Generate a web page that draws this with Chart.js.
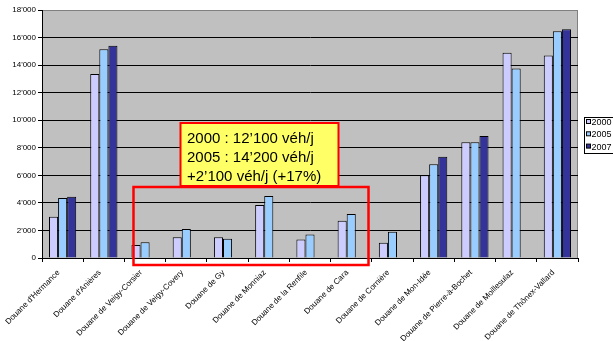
<!DOCTYPE html>
<html>
<head>
<meta charset="utf-8">
<script src="https://cdn.jsdelivr.net/npm/chart.js@4/dist/chart.umd.min.js"></script>
<style>
  html, body { margin: 0; padding: 0; background: #ffffff; }
  #wrap { width: 613px; height: 341px; position: relative; }
</style>
</head>
<body>
<div id="wrap"><canvas id="chart"></canvas></div>
<script>
// Daily traffic at the customs crossings (vehicles per day)
const categories = [
  "Douane d'Hermance", "Douane d'Anières", "Douane de Veigy-Corsier",
  "Douane de Veigy-Covery", "Douane de Gy", "Douane de Monniaz",
  "Douane de la Renfile", "Douane de Cara", "Douane de Cornière",
  "Douane de Mon-Idée", "Douane de Pierre-à-Bochet",
  "Douane de Moillesulaz", "Douane de Thônex-Vallard"
];
const seriesNames = ["2000", "2005", "2007"];
const values2000 = [3000, 13350, 950, 1500, 1500, 3850, 1350, 2700, 1100, 6000, 8400, 14900, 14700];
const values2005 = [4350, 15150, 1150, 2100, 1400, 4500, 1700, 3200, 1900, 6800, 8400, 13750, 16450];
const values2007 = [4450, 15400, null, null, null, null, null, null, null, 7350, 8850, null, 16600];
const yMax = 18000;
const yStep = 2000;
const noteLines = [
  "2000 : 12\u2019100 véh/j",
  "2005 : 14\u2019200 véh/j",
  "+2\u2019100 véh/j (+17%)"
];

const colors = ["#CCCCFF", "#99CCFF", "#333399"];
const FONT = "'Liberation Sans', Arial, sans-serif";

function fmtThousands(v) {
  if (v < 1000) return String(v);
  const k = Math.floor(v / 1000);
  const r = String(v % 1000).padStart(3, "0");
  return k + "'" + r;
}

// Grey plot area, drawn beneath the grid
const plotBackground = {
  id: "plotBackground",
  beforeDraw(chart) {
    const { ctx, chartArea: a } = chart;
    ctx.save();
    ctx.fillStyle = "#C0C0C0";
    ctx.fillRect(a.left, a.top, a.right - a.left, a.bottom - a.top);
    ctx.strokeStyle = "#808080";
    ctx.lineWidth = 1;
    ctx.beginPath();
    ctx.moveTo(a.left, a.top + 0.5);
    ctx.lineTo(a.right - 0.5, a.top + 0.5);
    ctx.lineTo(a.right - 0.5, a.bottom);
    ctx.stroke();
    ctx.restore();
  }
};

// Legend box at the right edge and the highlighted group with its note
const overlay = {
  id: "overlay",
  afterDraw(chart) {
    const ctx = chart.ctx;
    ctx.save();

    // legend
    ctx.fillStyle = "#ffffff";
    ctx.fillRect(584.5, 117.5, 30, 36);
    ctx.strokeStyle = "#000000";
    ctx.lineWidth = 1;
    ctx.strokeRect(584.5, 117.5, 30, 36);
    ctx.font = "9px " + FONT;
    ctx.textBaseline = "middle";
    ctx.textAlign = "left";
    seriesNames.forEach((name, i) => {
      const y = 122 + i * 12.3;
      ctx.fillStyle = colors[i];
      ctx.fillRect(586.5, y - 2.5, 4, 4);
      ctx.strokeStyle = "#000000";
      ctx.strokeRect(586.5, y - 2.5, 4, 4);
      ctx.fillStyle = "#000000";
      ctx.fillText(name, 591.5, y + 0.5);
    });

    // red outline around the small crossings
    ctx.strokeStyle = "#FF0000";
    ctx.lineWidth = 2.5;
    ctx.strokeRect(133.5, 187, 235, 78);

    // note box
    ctx.fillStyle = "#FFFF66";
    ctx.fillRect(180.5, 123, 158, 63);
    ctx.lineWidth = 2;
    ctx.strokeRect(180.5, 123, 158, 63);
    ctx.fillStyle = "#000000";
    ctx.font = "15px " + FONT;
    ctx.textBaseline = "middle";
    noteLines.forEach((line, i) => {
      ctx.fillText(line, 187, 138.5 + i * 19.2);
    });

    ctx.restore();
  }
};

const datasets = [values2000, values2005, values2007].map((vals, i) => ({
  label: seriesNames[i],
  data: vals,
  backgroundColor: colors[i],
  borderColor: "#000000",
  borderWidth: 1,
  barPercentage: 1.0,
  categoryPercentage: 0.66
}));

new Chart(document.getElementById("chart"), {
  type: "bar",
  data: { labels: categories, datasets },
  options: {
    responsive: true,
    maintainAspectRatio: false,
    animation: false,
    layout: { padding: { left: 0, top: 10, right: 35, bottom: 0 } },
    plugins: {
      legend: { display: false },
      tooltip: { enabled: false }
    },
    scales: {
      x: {
        afterFit(scale) { scale.height = 83; },
        grid: {
          display: true,
          offset: true,
          drawOnChartArea: false,
          drawTicks: true,
          tickLength: 4,
          color: "#000000"
        },
        border: { display: true, color: "#000000", width: 1 },
        ticks: {
          autoSkip: false,
          maxRotation: 45,
          minRotation: 45,
          padding: 6,
          labelOffset: -4,
          color: "#000000",
          font: { family: FONT, size: 8 }
        }
      },
      y: {
        min: 0,
        max: yMax,
        afterFit(scale) { scale.width = 42; },
        grid: {
          color: (c) => (c.tick && c.tick.value === yMax ? "#808080" : "#000000"),
          tickColor: "#000000",
          lineWidth: 1,
          tickLength: 4,
          drawTicks: true
        },
        border: { display: true, color: "#000000", width: 1 },
        ticks: {
          stepSize: yStep,
          padding: 2,
          color: "#000000",
          font: { family: FONT, size: 8 },
          callback: (v) => fmtThousands(v)
        }
      }
    }
  },
  plugins: [plotBackground, overlay]
});
</script>
</body>
</html>
